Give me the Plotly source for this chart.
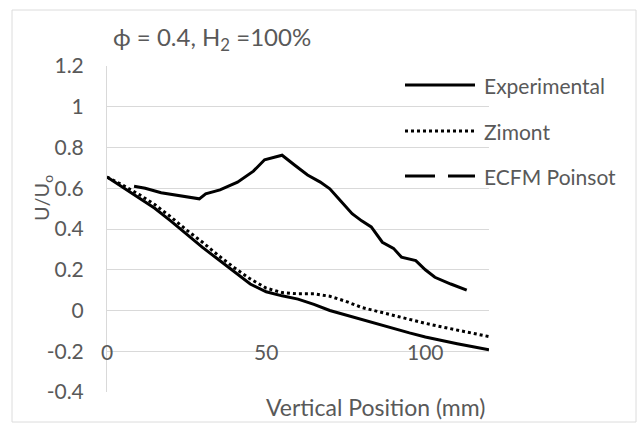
import plotly.graph_objects as go

# ---- data ----
series_names = ["Experimental", "Zimont", "ECFM Poinsot"]

exp_x = [8.5, 12, 17, 22, 29, 31, 35.5, 41, 46, 49.5, 55, 59, 63, 67, 70, 73, 77,
         80, 83, 86.5, 90, 92.5, 97, 100, 103, 108, 113]
exp_y = [0.61, 0.60, 0.578, 0.565, 0.548, 0.573, 0.592, 0.63, 0.684, 0.74, 0.762,
         0.713, 0.665, 0.63, 0.597, 0.545, 0.475, 0.44, 0.41, 0.335, 0.305, 0.262,
         0.245, 0.20, 0.163, 0.13, 0.10]

zim_x = [0, 5, 10, 15, 20, 25, 30, 35, 40, 45, 50, 55, 60, 65, 70, 75, 80, 85,
         90, 95, 100, 105, 110, 115, 120]
zim_y = [0.655, 0.615, 0.57, 0.52, 0.46, 0.395, 0.335, 0.27, 0.21, 0.155, 0.11,
         0.088, 0.082, 0.082, 0.07, 0.045, 0.015, -0.005, -0.025, -0.045, -0.063,
         -0.08, -0.097, -0.113, -0.128]

ecfm_x = [0, 5, 10, 15, 20, 25, 30, 35, 40, 45, 50, 55, 60, 65, 70, 75, 80, 85,
          90, 95, 100, 105, 110, 115, 120]
ecfm_y = [0.655, 0.605, 0.555, 0.502, 0.44, 0.375, 0.31, 0.25, 0.188, 0.13, 0.092,
          0.072, 0.056, 0.03, 0.0, -0.022, -0.045, -0.068, -0.09, -0.11, -0.13,
          -0.148, -0.163, -0.178, -0.193]

y_ticks = [-0.4, -0.2, 0, 0.2, 0.4, 0.6, 0.8, 1, 1.2]
y_tick_text = ["-0.4", "-0.2", "0", "0.2", "0.4", "0.6", "0.8", "1", "1.2"]
x_ticks = [0, 50, 100]
x_tick_text = ["0", "50", "100"]

# ---- layout geometry (pixels) ----
W, H = 637, 425
PL, PR, PT, PB = 107, 489, 66, 392
FONT = "Lato, 'Open Sans', sans-serif"
GREY = "#595959"


def px_x(p):
    return (p - PL) / (PR - PL)


def px_y(p):
    return (PB - p) / (PB - PT)


fig = go.Figure()
fig.add_trace(go.Scatter(x=exp_x, y=exp_y, mode="lines", name=series_names[0],
                         line=dict(color="black", width=3), showlegend=False))
fig.add_trace(go.Scatter(x=zim_x, y=zim_y, mode="lines", name=series_names[1],
                         line=dict(color="black", width=3, dash="dot"), showlegend=False))
fig.add_trace(go.Scatter(x=ecfm_x, y=ecfm_y, mode="lines", name=series_names[2],
                         line=dict(color="black", width=3), showlegend=False))

shapes = [
    # chart border
    dict(type="rect", xref="paper", yref="paper",
         x0=px_x(12), x1=px_x(636), y0=px_y(422), y1=px_y(10),
         line=dict(color="#dcdcdc", width=1)),
]

# legend samples
legend_rows = [85, 131, 176]
legend_dash = ["solid", "dot", "30px,13px"]
annotations = []
for name, row, dash in zip(series_names, legend_rows, legend_dash):
    shapes.append(dict(type="line", xref="paper", yref="paper",
                       x0=px_x(405), x1=px_x(475), y0=px_y(row), y1=px_y(row),
                       line=dict(color="black", width=3, dash=dash)))
    annotations.append(dict(text=name, xref="paper", yref="paper",
                            x=px_x(482), y=px_y(row), xanchor="left", yanchor="middle",
                            showarrow=False, font=dict(family=FONT, size=21, color=GREY)))

# x tick labels sit on the -0.2 line
for xv, xt in zip(x_ticks, x_tick_text):
    annotations.append(dict(text=xt, x=xv, y=-0.2, xref="x", yref="y",
                            xanchor="center", yanchor="middle", showarrow=False,
                            font=dict(family=FONT, size=21, color=GREY)))

# title
annotations.append(dict(text="ϕ = 0.4, H<sub>2</sub> =100%", xref="paper", yref="paper",
                        x=px_x(111), y=px_y(38), xanchor="left", yanchor="middle",
                        showarrow=False, font=dict(family=FONT, size=24, color=GREY)))
# axis titles
annotations.append(dict(text="Vertical Position (mm)", xref="paper", yref="paper",
                        x=px_x(487), y=px_y(407), xanchor="right", yanchor="middle",
                        showarrow=False, font=dict(family=FONT, size=23, color=GREY)))
annotations.append(dict(text="U/U<sub>o</sub>", xref="paper", yref="paper",
                        x=px_x(42), y=px_y(198), xanchor="center", yanchor="middle",
                        textangle=-90, showarrow=False,
                        font=dict(family=FONT, size=20, color=GREY)))

fig.update_layout(
    width=W, height=H,
    margin=dict(l=PL, r=W - PR, t=PT, b=H - PB),
    paper_bgcolor="white", plot_bgcolor="white",
    shapes=shapes, annotations=annotations,
    showlegend=False,
)
fig.update_xaxes(range=[0, 120], showgrid=False, zeroline=False, showticklabels=False,
                 showline=False, fixedrange=True)
fig.update_yaxes(range=[-0.4, 1.2], tickvals=y_ticks, ticktext=y_tick_text,
                 showgrid=True, gridcolor="#d9d9d9", gridwidth=1, zeroline=False,
                 showline=True, linecolor="#d9d9d9", linewidth=1,
                 ticklabelstandoff=18,
                 tickfont=dict(family=FONT, size=21, color=GREY), fixedrange=True)

fig.write_html("out.html")
